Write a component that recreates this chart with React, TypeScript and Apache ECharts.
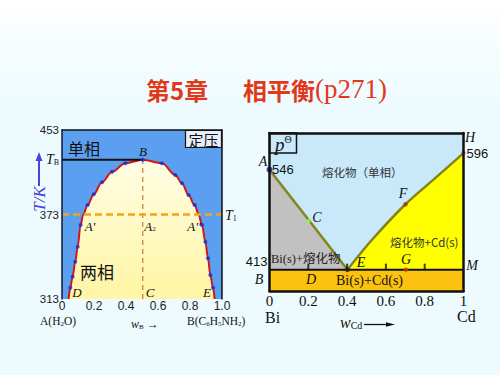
import React, { useEffect, useRef } from 'react';
import * as echarts from 'echarts';

// ---------- Left diagram: H2O (A) – C6H5NH2 (B), schematic height units 0..100 ----------
const leftCurve: [number, number][] = [
  [0.041, 0], [0.052, 6.7], [0.066, 13.2], [0.083, 22.1], [0.098, 30.9], [0.116, 43.8],
  [0.133, 50], [0.16, 55.6], [0.198, 62.0], [0.25, 69.1], [0.3125, 75.3], [0.396, 80.3],
  [0.505, 82.4], [0.625, 80.3], [0.708, 73.4], [0.75, 68.5], [0.791, 61.5], [0.829, 55.6],
  [0.854, 50], [0.875, 43.8], [0.896, 33.9], [0.9125, 24.1], [0.927, 14.2], [0.944, 6.7],
  [0.954, 0],
];
const leftYTickPos = [0, 50, 82.4, 100];
const leftYTickText = ['313', '373', 'TB', '453'];
const leftTB = 82.4;
const leftBW = 0.505;
const leftT1 = 50;

// ---------- Right diagram: Bi – Cd, schematic height units 0..100 ----------
const rightLiquidusA: [number, number][] = [[0, 76.8], [0.402, 13.5]];
const rightLiquidusH: [number, number][] = [[0.402, 13.5], [0.526, 32.1], [0.701, 54.9], [0.851, 71.1], [1, 87.3]];
const rightEutectic = 13.5;
const rightTickMarks = [0.2, 0.4, 0.6, 0.8];
const rightPointNames = ['A', 'C', 'F', 'H', 'G', 'E'];
const rightPointW = [0, 0.201, 0.701, 1, 0.703, 0.402];
const rightPointU = [76.8, 44.3, 54.9, 87.3, 13.5, 13.5];
const rightPointColor = ['#1414b4', '#86ff4a', '#a8321e', '#e0406a', '#c8342c', '#222222'];

const serif = '"Liberation Serif", "Times New Roman", serif';
const sans = '"Liberation Sans", Arial, sans-serif';
const cjk = '"Noto Sans CJK SC", sans-serif';
const mixSerif = '"Liberation Serif", "Noto Sans CJK SC", serif';
const mixSans = '"Noto Sans CJK SC", "Liberation Sans", sans-serif';

function txt(x: number, y: number, text: string, style: any = {}) {
  return {
    type: 'text', x, y, z: 100,
    style: { text, fill: '#111', align: 'left', verticalAlign: 'middle', fontFamily: serif, fontSize: 14, ...style },
  };
}
function ital(x: number, y: number, text: string, size = 14) {
  return txt(x, y, text, { align: 'center', fontStyle: 'italic', fontSize: size });
}
const subRich = (mainSize: number, subSize: number, italicMain = true) => ({
  i: { fontFamily: serif, fontStyle: italicMain ? 'italic' : 'normal', fontSize: mainSize, fill: '#111' },
  n: { fontFamily: serif, fontSize: mainSize, fill: '#111' },
  s: { fontFamily: serif, fontSize: subSize, fill: '#111', verticalAlign: 'bottom', padding: [6, 0, 0, 0] },
});

function buildOption(): any {
  const borderLine = (w: number) => ({ show: true, onZero: false, lineStyle: { color: '#111', width: w } });
  const hidden = { axisTick: { show: false }, splitLine: { show: false }, axisLabel: { show: false } };

  return {
    animation: false,
    backgroundColor: 'transparent',
    grid: [
      { left: 62, top: 130, width: 160, height: 169, show: true, backgroundColor: '#5b9ff0', borderWidth: 0 },
      { left: 269.5, top: 133, width: 194, height: 158, show: true, backgroundColor: '#c9e9fb', borderWidth: 0 },
    ],
    xAxis: [
      {
        gridIndex: 0, type: 'value', min: 0, max: 1, interval: 0.2, position: 'bottom',
        axisLine: { show: false, onZero: false }, axisTick: { show: false }, splitLine: { show: false },
        axisLabel: { margin: 1, fontFamily: sans, fontSize: 12, color: '#222', formatter: (v: number) => (v === 0 ? '0' : v.toFixed(1)) },
      },
      { gridIndex: 0, type: 'value', min: 0, max: 1, position: 'top', axisLine: borderLine(1.5), ...hidden, z: 10 },
      {
        gridIndex: 1, type: 'value', min: 0, max: 1, interval: 0.2, position: 'bottom',
        axisLine: borderLine(2.5), axisTick: { show: false }, splitLine: { show: false }, z: 10,
        axisLabel: { margin: 2, fontFamily: serif, fontSize: 15, color: '#111', formatter: (v: number) => String(Number(v.toFixed(1))) },
      },
      { gridIndex: 1, type: 'value', min: 0, max: 1, position: 'top', axisLine: borderLine(2.5), ...hidden, z: 10 },
    ],
    yAxis: [
      {
        gridIndex: 0, type: 'value', min: 0, max: 100, position: 'left',
        axisLine: { show: true, onZero: false, lineStyle: { color: '#14143a', width: 1.5 } },
        axisTick: { show: false }, splitLine: { show: false }, z: 10,
        axisLabel: {
          customValues: leftYTickPos, margin: 3, fontFamily: sans, fontSize: 11.5, color: '#222',
          formatter: (v: number) => {
            const i = leftYTickPos.indexOf(v);
            const t = i >= 0 ? leftYTickText[i] : '';
            return t === 'TB' ? '{i|T}{s|B}' : t;
          },
          rich: {
            i: { fontFamily: serif, fontStyle: 'italic', fontSize: 14, color: '#111' },
            s: { fontFamily: serif, fontSize: 8, color: '#111', verticalAlign: 'bottom', padding: [6, 0, 0, 0] },
          },
        },
      },
      { gridIndex: 0, type: 'value', min: 0, max: 100, position: 'right', axisLine: borderLine(1.5), ...hidden, z: 10 },
      { gridIndex: 1, type: 'value', min: 0, max: 100, position: 'left', axisLine: borderLine(2.5), ...hidden, z: 10 },
      { gridIndex: 1, type: 'value', min: 0, max: 100, position: 'right', axisLine: borderLine(2.5), ...hidden, z: 10 },
    ],
    series: [
      // left: two-phase region under the coexistence curve
      {
        type: 'line', xAxisIndex: 0, yAxisIndex: 0, data: leftCurve, smooth: 0.35, smoothMonotone: 'x',
        showSymbol: false, symbol: 'none', lineStyle: { color: '#d0161c', width: 2 },
        areaStyle: {
          opacity: 1,
          color: new echarts.graphic.LinearGradient(0, 0, 0, 1, [
            { offset: 0, color: '#fffde4' },
            { offset: 1, color: '#fff5a4' },
          ]),
        },
        z: 2,
      },
      {
        type: 'line', xAxisIndex: 0, yAxisIndex: 0, data: [[0, leftTB], [leftBW, leftTB]],
        symbol: 'none', lineStyle: { color: '#111', width: 2 }, z: 3,
      },
      {
        type: 'line', xAxisIndex: 0, yAxisIndex: 0, data: [[leftBW, 0], [leftBW, leftTB]],
        symbol: 'none', lineStyle: { color: '#b8661e', width: 1, type: [5, 4] }, z: 3,
      },
      {
        type: 'line', xAxisIndex: 0, yAxisIndex: 0, data: [[0, leftT1], [1, leftT1]], clip: false,
        symbol: 'none', lineStyle: { color: '#f7a21b', width: 2.5, type: [7, 4] }, z: 4,
      },
      {
        type: 'scatter', xAxisIndex: 0, yAxisIndex: 0, clip: false,
        data: leftCurve.filter((p, i) => i > 0 && i < leftCurve.length - 1 && p[1] !== leftT1),
        symbolSize: 4, itemStyle: { color: '#1730d0' }, z: 5,
      },
      // right: Bi(s)+melt region
      {
        type: 'line', xAxisIndex: 2, yAxisIndex: 2, data: rightLiquidusA, symbol: 'none',
        lineStyle: { color: '#84841c', width: 2.5 }, areaStyle: { color: '#c1c1c1', opacity: 1 }, z: 2,
      },
      // right: melt+Cd(s) region
      {
        type: 'line', xAxisIndex: 2, yAxisIndex: 2, data: rightLiquidusH, symbol: 'none', smooth: 0.3,
        lineStyle: { color: '#84841c', width: 2.5 }, areaStyle: { color: '#ffff00', opacity: 1 }, z: 2,
      },
      // right: Bi(s)+Cd(s) band and eutectic line
      {
        type: 'line', xAxisIndex: 2, yAxisIndex: 2, data: [[0, rightEutectic], [1, rightEutectic]], symbol: 'none',
        lineStyle: { color: '#111', width: 2 }, areaStyle: { color: '#fdc10f', opacity: 1 }, z: 3,
      },
      {
        type: 'scatter', xAxisIndex: 2, yAxisIndex: 2, clip: false,
        data: rightTickMarks.map((w) => [w, rightEutectic]),
        symbol: 'rect', symbolSize: [2, 6], symbolOffset: [0, -3], itemStyle: { color: '#111' }, z: 4,
      },
      {
        type: 'scatter', xAxisIndex: 2, yAxisIndex: 2, clip: false,
        data: rightPointNames.map((n, i) => ({
          name: n, value: [rightPointW[i], rightPointU[i]], itemStyle: { color: rightPointColor[i] },
          symbolSize: n === 'A' ? 6 : n === 'E' ? 5 : 4.5,
        })),
        z: 6,
      },
    ],
    graphic: [
      // title
      txt(146, 89, '第5章', { fontFamily: cjk, fontWeight: 'bold', fontSize: 24, fill: '#e2381a' }),
      txt(243, 89, '相平衡', { fontFamily: cjk, fontWeight: 'bold', fontSize: 24, fill: '#e2381a' }),
      txt(315, 89, '(p271)', { fontFamily: serif, fontSize: 27, fill: '#e2381a' }),

      // ---- left diagram annotations ----
      { type: 'rect', z: 100, shape: { x: 185.5, y: 130.5, width: 36, height: 17 }, style: { fill: '#e6eefa', stroke: '#111', lineWidth: 1.2 } },
      txt(203.5, 139.5, '定压', { align: 'center', fontFamily: cjk, fontSize: 15 }),
      txt(68, 148, '单相', { fontFamily: cjk, fontSize: 16 }),
      txt(80, 271, '两相', { fontFamily: cjk, fontSize: 17 }),
      ital(143, 151, 'B', 13),
      ital(90, 226, "A'", 13),
      txt(150, 226, '{i|A}{s|2}', { align: 'center', rich: subRich(13, 7) }),
      ital(194, 226, "A''", 13),
      ital(77, 292, 'D', 13),
      ital(150, 292, 'C', 13),
      ital(207, 292, 'E', 13),
      txt(225, 215, '{i|T}{s|1}', { rich: subRich(14, 8) }),
      { type: 'line', z: 100, shape: { x1: 39, y1: 186, x2: 39, y2: 158 }, style: { stroke: '#4646dc', lineWidth: 2 } },
      { type: 'polygon', z: 100, shape: { points: [[39, 152], [35.5, 161], [42.5, 161]] }, style: { fill: '#4646dc' } },
      { type: 'text', x: 39, y: 199, rotation: Math.PI / 2, z: 100, style: { text: 'T/K', fill: '#4646dc', fontFamily: serif, fontStyle: 'italic', fontSize: 17, align: 'center', verticalAlign: 'middle' } },
      txt(40, 321, '{n|A(H}{s|2}{n|O)}', { rich: subRich(11.5, 7, false) }),
      txt(131, 324, '{i|w}{s|B}{n| →}', { rich: subRich(12, 7) }),
      txt(187, 321, '{n|B(C}{s|6}{n|H}{s|5}{n|NH}{s|2}{n|)}', { rich: subRich(11.5, 7, false) }),

      // ---- right diagram annotations ----
      { type: 'rect', z: 100, shape: { x: 269.5, y: 133, width: 27, height: 20 }, style: { fill: 'none', stroke: '#111', lineWidth: 1.5 } },
      txt(275, 144, '{i|p}{t|Θ}', {
        rich: {
          i: { fontFamily: serif, fontStyle: 'italic', fontSize: 19, fill: '#111' },
          t: { fontFamily: serif, fontSize: 10, fill: '#111', verticalAlign: 'top', padding: [0, 0, 8, 0] },
        },
      }),
      ital(263, 161, 'A', 14),
      txt(272, 169.5, '546', { fontFamily: sans, fontSize: 13 }),
      ital(470, 137, 'H', 14),
      txt(466.5, 153, '596', { fontFamily: sans, fontSize: 13 }),
      txt(322, 172, '熔化物（单相）', { fontFamily: cjk, fontSize: 11.5, fill: '#333' }),
      ital(403, 193, 'F', 14),
      ital(317, 217, 'C', 14),
      txt(390, 242, '熔化物+Cd(s)', { fontFamily: mixSans, fontSize: 11.5, fill: '#333' }),
      txt(267.5, 261, '413', { align: 'right', fontFamily: sans, fontSize: 13 }),
      txt(271, 259, 'Bi(s)+熔化物', { fontFamily: mixSerif, fontSize: 12.5, fill: '#222' }),
      ital(361, 262, 'E', 14),
      ital(406, 259.5, 'G', 14),
      ital(472, 265, 'M', 14),
      ital(259, 279.5, 'B', 14),
      ital(311, 279.5, 'D', 14),
      txt(336, 280, 'Bi(s)+Cd(s)', { fontFamily: serif, fontSize: 14 }),
      txt(265, 317, 'Bi', { fontFamily: serif, fontSize: 16 }),
      txt(457, 316, 'Cd', { fontFamily: serif, fontSize: 16 }),
      txt(340, 322, '{i|w}{s|Cd}', { rich: subRich(16, 10) }),
      { type: 'line', z: 100, shape: { x1: 364, y1: 324.5, x2: 390, y2: 324.5 }, style: { stroke: '#111', lineWidth: 1.3 } },
      { type: 'polygon', z: 100, shape: { points: [[395, 324.5], [386, 322.3], [386, 326.7]] }, style: { fill: '#111' } },
    ],
  };
}

export default function App() {
  const ref = useRef<HTMLDivElement>(null);
  useEffect(() => {
    const el = ref.current;
    if (!el) return;
    const chart = echarts.init(el, null, { renderer: 'svg' });
    chart.setOption(buildOption());
    return () => chart.dispose();
  }, []);
  return (
    <div
      ref={ref}
      style={{
        position: 'absolute', left: 0, top: 0, width: 500, height: 375,
        background: 'linear-gradient(180deg, #ffffff 0%, #f6fdff 12%, #edfbfe 30%, #edfbfe 100%)',
      }}
    />
  );
}
